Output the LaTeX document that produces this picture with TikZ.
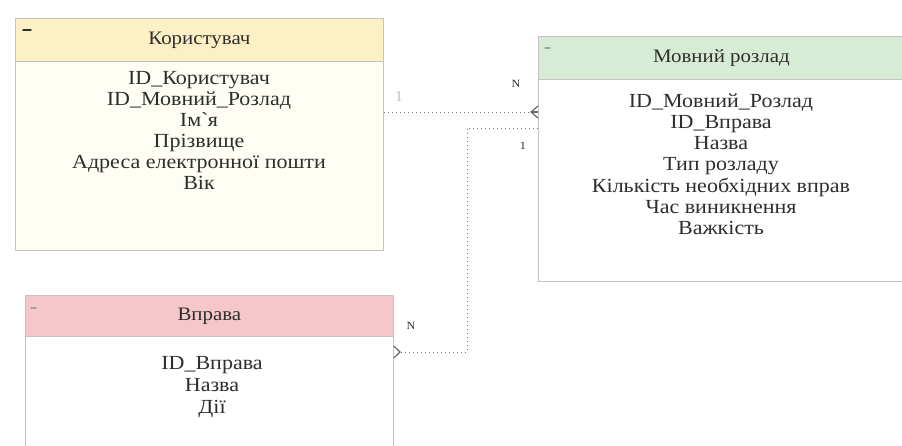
\documentclass[tikz,border=0pt]{standalone}
\usepackage{fontspec}
\setmainfont{Liberation Serif}[FakeStretch=1.1]
\definecolor{yhdr}{HTML}{FCF0C4}
\definecolor{ybody}{HTML}{FFFEF4}
\definecolor{ghdr}{HTML}{D7ECD5}
\definecolor{phdr}{HTML}{F5C7CA}
\definecolor{bord}{HTML}{C4C4C4}
\definecolor{txt}{HTML}{2E2E2E}
\definecolor{conn}{HTML}{7A7A7A}
\begin{document}
\begin{tikzpicture}[x=1pt,y=-1pt,
  hdr/.style={draw=bord, line width=0.8pt, minimum height=43, anchor=north west, inner sep=0pt, font=\fontsize{19}{20}\selectfont, text=txt},
  bodybox/.style={draw=bord, line width=0.8pt, anchor=north west, inner sep=0pt},
  attr/.style={font=\fontsize{20}{21}\selectfont, text=txt, inner sep=0pt, anchor=base},
  rel/.style={draw=conn, line width=1pt, dash pattern=on 1.4pt off 2.6pt},
  crow/.style={draw=conn!85!black, line width=1.2pt},
  card/.style={font=\fontsize{11}{12}\selectfont, text=txt, inner sep=0pt},
  mini/.style={line width=1.4pt, line cap=round}]
\clip (0,0) rectangle (902,445);
\fill[white] (0,0) rectangle (902,445);

% ---- Користувач
\node[bodybox, fill=ybody, minimum width=368, minimum height=189] (ub) at (15,61) {};
\node[hdr, fill=yhdr, minimum width=368] (uh) at (15,18) {Користувач};
\draw[mini, draw=txt] (23,30) -- (31,30);
\node[attr] (u1) at (199,84) {ID\_Користувач};
\node[attr] (u2) at (199,105) {ID\_Мовний\_Розлад};
\node[attr] (u3) at (199,126) {Ім\textasciigrave я};
\node[attr] (u4) at (199,147) {Прізвище};
\node[attr] (u5) at (199,168) {Адреса електронної пошти};
\node[attr] (u6) at (199,189) {Вік};

% ---- Мовний розлад
\node[bodybox, fill=white, minimum width=366, minimum height=202] (mb) at (538,79) {};
\node[hdr, fill=ghdr, minimum width=366] (mh) at (538,36) {Мовний розлад};
\draw[mini, draw=conn!70] (545,48) -- (550,48);
\node[attr] (m1) at (721,107) {ID\_Мовний\_Розлад};
\node[attr] (m2) at (721,128.3) {ID\_Вправа};
\node[attr] (m3) at (721,149.6) {Назва};
\node[attr] (m4) at (721,170.9) {Тип розладу};
\node[attr] (m5) at (721,192.2) {Кількість необхідних вправ};
\node[attr] (m6) at (721,213.5) {Час виникнення};
\node[attr] (m7) at (721,234.8) {Важкість};

% ---- Вправа
\node[bodybox, fill=white, minimum width=368, minimum height=130] (vb) at (25,336) {};
\node[hdr, fill=phdr, minimum width=368, minimum height=41] (vh) at (25,295) {Вправа};
\draw[mini, draw=conn!70] (31,308) -- (36,308);
\node[attr] (v1) at (212,369) {ID\_Вправа};
\node[attr] (v2) at (212,391) {Назва};
\node[attr] (v3) at (212,413) {Дії};

% ---- connectors
\coordinate (r1a) at (ub.north east |- 0,112);
\coordinate (r1b) at (mb.north west |- 0,112);
\coordinate (r1v) at (531,112);
\draw[rel] (r1a) -- (r1v);
\draw[crow] (r1b |- 0,106) -- (r1v) -- (r1b |- 0,118);
\draw[crow] (r1v) -- (r1b);

\coordinate (r2a) at (mb.north west |- 0,128);
\coordinate (r2k1) at (467,128);
\coordinate (r2k2) at (467,352);
\coordinate (r2b) at (vb.north east |- 0,352);
\coordinate (r2v) at (400,352);
\draw[rel] (r2a) -- (r2k1) -- (r2k2) -- (r2v);
\draw[crow] (r2b |- 0,346) -- (r2v) -- (r2b |- 0,358);

\node[font=\fontsize{15}{16}\selectfont, text=bord] (c1) at (399,97) {1};
\node[card] (c2) at (516,84) {N};
\node[card] (c3) at (523,146) {1};
\node[card] (c4) at (411,326) {N};
\end{tikzpicture}
\end{document}
